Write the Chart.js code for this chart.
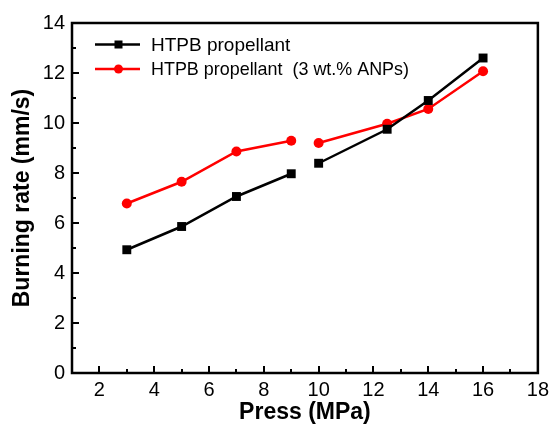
<!DOCTYPE html>
<html>
<head>
<meta charset="utf-8">
<script src="https://cdn.jsdelivr.net/npm/chart.js@4.4.1/dist/chart.umd.min.js"></script>
<style>
  html, body { margin: 0; padding: 0; background: #fff; }
  #wrap { width: 554px; height: 430px; }
</style>
</head>
<body>
<div id="wrap"><canvas id="rateChart"></canvas></div>
<script>
// pressure (MPa) and burning rate (mm/s)
const pressure = [3, 5, 7, 9, 10, 12.5, 14, 16];
const rateHTPB = [4.93, 5.86, 7.06, 7.97, 8.39, 9.75, 10.9, 12.6];
const rateANP  = [6.78, 7.65, 8.86, 9.29, 9.2, 9.97, 10.56, 12.07];
const seriesNames = ['HTPB propellant', 'HTPB propellant  (3 wt.% ANPs)'];
const breakAfter = 9; // curves are not joined between 9 and 10 MPa

const xTicks = [2, 4, 6, 8, 10, 12, 14, 16, 18];
const yTicks = [0, 2, 4, 6, 8, 10, 12, 14];

const FONT = "'Liberation Sans', Arial, sans-serif";

function toPoints(ys) {
    return pressure.map((p, i) => ({ x: p, y: ys[i] }));
}

// hide the segment that crosses the gap
const gapSegment = {
    borderColor: ctx => ctx.p0.parsed.x === breakAfter ? 'rgba(0,0,0,0)' : undefined
};

// frame + inward ticks + legend inside the plot, like the original figure
const framePlugin = {
    id: 'frame',
    afterDraw(chart) {
        const c = chart.ctx;
        const a = chart.chartArea;
        const xs = chart.scales.x, ys = chart.scales.y;
        c.save();
        c.strokeStyle = '#000';
        c.lineWidth = 2.5;
        c.strokeRect(a.left, a.top, a.right - a.left, a.bottom - a.top);

        c.lineWidth = 2;
        for (let v = 1; v <= 18; v++) {
            const px = Math.round(xs.getPixelForValue(v));
            const len = v % 2 === 0 ? 7 : 4;
            c.beginPath();
            c.moveTo(px, a.bottom);
            c.lineTo(px, a.bottom - len);
            c.stroke();
        }
        for (let v = 0; v <= 14; v++) {
            const py = Math.round(ys.getPixelForValue(v));
            const len = v % 2 === 0 ? 7 : 4;
            c.beginPath();
            c.moveTo(a.left, py);
            c.lineTo(a.left + len, py);
            c.stroke();
        }

        // legend
        const rows = [44.5, 69];
        const maxW = [150, 258];
        chart.data.datasets.forEach((ds, i) => {
            const y = rows[i];
            c.strokeStyle = ds.borderColor;
            c.lineWidth = 2.5;
            c.beginPath();
            c.moveTo(95, y);
            c.lineTo(140, y);
            c.stroke();
            c.fillStyle = ds.backgroundColor;
            if (ds.pointStyle === 'rect') {
                c.fillRect(118.5 - 4, y - 4, 8, 8);
            } else {
                c.beginPath();
                c.arc(118.5, y, 4.5, 0, Math.PI * 2);
                c.fill();
            }
            c.fillStyle = '#000';
            c.font = '19px ' + FONT;
            c.textBaseline = 'middle';
            c.textAlign = 'left';
            c.fillText(ds.label, 151, y + 1, maxW[i]);
        });
        c.restore();
    }
};

new Chart(document.getElementById('rateChart'), {
    type: 'line',
    data: {
        datasets: [
            {
                label: seriesNames[0],
                data: toPoints(rateHTPB),
                borderColor: '#000',
                backgroundColor: '#000',
                borderWidth: 2.5,
                pointStyle: 'rect',
                pointRadius: 6.3,
                pointBorderWidth: 0,
                segment: gapSegment
            },
            {
                label: seriesNames[1],
                data: toPoints(rateANP),
                borderColor: '#ff0000',
                backgroundColor: '#ff0000',
                borderWidth: 2.5,
                pointStyle: 'circle',
                pointRadius: 5,
                pointBorderWidth: 0,
                segment: gapSegment
            }
        ]
    },
    options: {
        responsive: true,
        maintainAspectRatio: false,
        animation: false,
        layout: { padding: { top: 23, right: 10, left: 0, bottom: 0 } },
        plugins: {
            legend: { display: false },
            tooltip: { enabled: false }
        },
        scales: {
            x: {
                type: 'linear',
                min: 1,
                max: 18,
                afterFit: s => { s.height = 57; },
                afterBuildTicks: s => { s.ticks = xTicks.map(v => ({ value: v })); },
                grid: { display: false, drawTicks: false },
                border: { display: false },
                ticks: {
                    color: '#000',
                    padding: 5,
                    maxRotation: 0,
                    font: { family: FONT, size: 20 }
                },
                title: {
                    display: true,
                    text: 'Press (MPa)',
                    color: '#000',
                    padding: { top: 0, bottom: 4 },
                    font: { family: FONT, size: 23, weight: 'bold' }
                }
            },
            y: {
                min: 0,
                max: 14,
                afterFit: s => { s.width = 72; },
                afterBuildTicks: s => { s.ticks = yTicks.map(v => ({ value: v })); },
                grid: { display: false, drawTicks: false },
                border: { display: false },
                ticks: {
                    color: '#000',
                    padding: 7,
                    font: { family: FONT, size: 20 }
                },
                title: {
                    display: true,
                    text: 'Burning rate (mm/s)',
                    color: '#000',
                    padding: { top: 9, bottom: 0 },
                    font: { family: FONT, size: 23, weight: 'bold' }
                }
            }
        }
    },
    plugins: [framePlugin]
});
</script>
</body>
</html>
